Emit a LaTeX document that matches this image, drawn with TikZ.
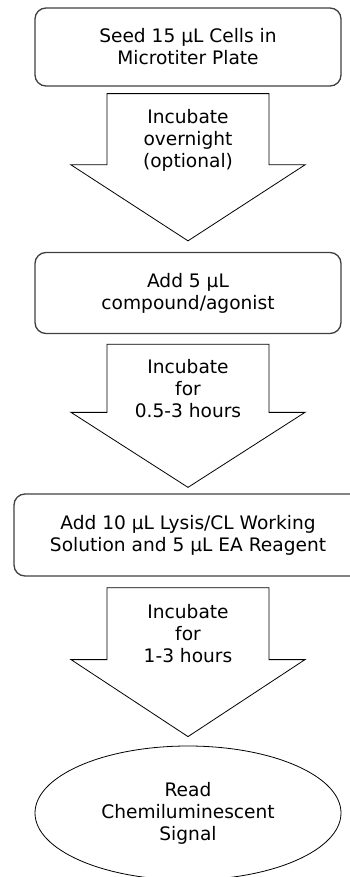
\documentclass[tikz,border=0pt]{standalone}
\usepackage{fontspec}
\setmainfont{DejaVu Sans}
\usetikzlibrary{positioning,calc,shapes.geometric}

\begin{document}
\begin{tikzpicture}[x=1pt, y=-1pt,
    every node/.style={font=\fontsize{18.6}{22}\selectfont, align=center},
    caja/.style={draw=black!75, line width=1.3pt, rounded corners=11pt, inner sep=0pt},
    flecha/.style={draw, line width=0.8pt, line join=miter}]
            \useasboundingbox (0,0) rectangle (350,877);
            \clip (0,0) rectangle (350,877);
            % Nodos
            \node[caja, minimum width=306pt, minimum height=78pt] (seed) at (188,47) {Seed 15 µL Cells in\\Microtiter Plate};
            \node[caja, minimum width=306pt, minimum height=81pt] (add) at (188,293) {Add 5 µL\\compound/agonist};
            \node[caja, minimum width=348pt, minimum height=82pt] (lysis) at (188,535) {Add 10 µL Lysis/CL Working\\Solution and 5 µL EA Reagent};
            \node[draw, ellipse, line width=0.8pt, minimum width=306pt, minimum height=134pt] (read) at (188,813) {Read\\Chemiluminescent\\Signal};
            \node (inc1) at (188,140) {Incubate\\overnight\\(optional)};
            \node (inc2) at (188,389) {Incubate\\for\\0.5-3 hours};
            \node (inc3) at (188,634) {Incubate\\for\\1-3 hours};

            % Flechas
            \draw[flecha] ($(seed.south)+(-81,7)$) -- ($(seed.south)+(81,7)$) -- ($(add.north)+(81,-87)$) -- ($(add.north)+(117,-87)$) -- ($(add.north)+(0,-11)$) -- ($(add.north)+(-117,-87)$) -- ($(add.north)+(-81,-87)$) -- cycle;
            \draw[flecha] ($(add.south)+(-81,10)$) -- ($(add.south)+(81,10)$) -- ($(lysis.north)+(81,-81)$) -- ($(lysis.north)+(117,-81)$) -- ($(lysis.north)+(0,-6)$) -- ($(lysis.north)+(-117,-81)$) -- ($(lysis.north)+(-81,-81)$) -- cycle;
            \draw[flecha] ($(lysis.south)+(-81,11)$) -- ($(lysis.south)+(81,11)$) -- ($(read.north)+(81,-86)$) -- ($(read.north)+(117,-86)$) -- ($(read.north)+(0,-9)$) -- ($(read.north)+(-117,-86)$) -- ($(read.north)+(-81,-86)$) -- cycle;
          \end{tikzpicture}
\end{document}
